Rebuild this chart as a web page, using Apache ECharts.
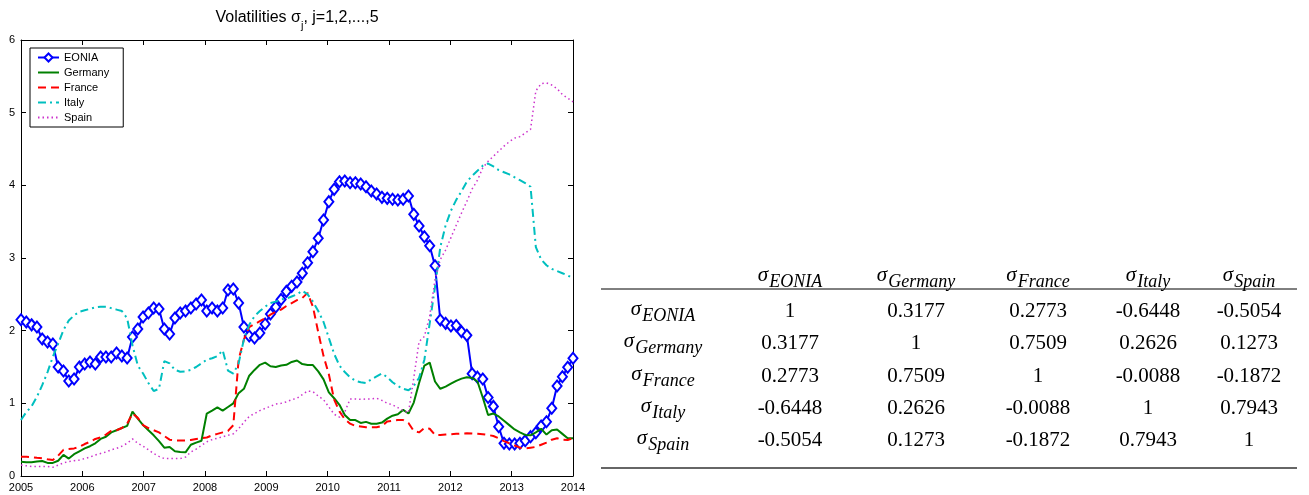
<!DOCTYPE html>
<html><head><meta charset="utf-8">
<script src="https://cdn.jsdelivr.net/npm/echarts@6/dist/echarts.min.js"></script>
<style>html,body{margin:0;padding:0;background:#fff}#c{width:1309px;height:495px}</style>
</head><body><div id="c"></div>
<script>
const seriesNames = ['EONIA', 'Germany', 'France', 'Italy', 'Spain'];

const eonia = [2.15, 2.12, 2.08, 2.05, 1.885, 1.844, 1.816, 1.50, 1.445, 1.307,
  1.335, 1.50, 1.541, 1.569, 1.541, 1.638, 1.638, 1.638, 1.693, 1.651,
  1.624, 1.913, 2.023, 2.188, 2.243, 2.312, 2.298, 2.023, 1.954, 2.174,
  2.243, 2.27, 2.312, 2.367, 2.422, 2.27, 2.312, 2.27, 2.312, 2.56,
  2.573, 2.38, 2.05, 1.927, 1.899, 1.968, 2.092, 2.229, 2.326, 2.43,
  2.54, 2.61, 2.67, 2.789, 2.935, 3.087, 3.271, 3.523, 3.775, 3.945,
  4.05, 4.059, 4.036, 4.036, 4.018, 3.981, 3.922, 3.88, 3.835, 3.821,
  3.808, 3.798, 3.808, 3.853, 3.601, 3.44, 3.293, 3.169, 2.894, 2.147,
  2.101, 2.064, 2.07, 1.986, 1.936, 1.408, 1.36, 1.335, 1.08, 0.958,
  0.678, 0.45, 0.44, 0.44, 0.45, 0.486, 0.541, 0.596, 0.688, 0.747,
  0.932, 1.238, 1.366, 1.496, 1.62];

const germany = [0.197, 0.19, 0.19, 0.20, 0.206, 0.18, 0.18, 0.21, 0.29, 0.24,
  0.30, 0.34, 0.38, 0.41, 0.45, 0.51, 0.54, 0.60, 0.63, 0.66,
  0.69, 0.885, 0.79, 0.70, 0.63, 0.56, 0.48, 0.39, 0.40, 0.34,
  0.33, 0.326, 0.43, 0.46, 0.485, 0.86, 0.90, 0.945, 0.90, 0.95,
  1.00, 1.14, 1.20, 1.38, 1.46, 1.53, 1.56, 1.51, 1.50, 1.52,
  1.53, 1.57, 1.59, 1.54, 1.527, 1.527, 1.44, 1.33, 1.15, 1.07,
  0.98, 0.84, 0.77, 0.77, 0.73, 0.745, 0.72, 0.72, 0.735, 0.79,
  0.83, 0.85, 0.91, 0.86, 1.01, 1.28, 1.52, 1.56, 1.30, 1.20,
  1.23, 1.27, 1.31, 1.34, 1.36, 1.35, 1.30, 1.08, 0.84, 0.86,
  0.82, 0.76, 0.70, 0.64, 0.60, 0.565, 0.56, 0.60, 0.65, 0.57,
  0.63, 0.64, 0.58, 0.52, 0.52];

const france = [0.266, 0.266, 0.26, 0.25, 0.243, 0.23, 0.22, 0.28, 0.36, 0.37,
  0.38, 0.40, 0.44, 0.47, 0.51, 0.53, 0.57, 0.62, 0.63, 0.66,
  0.72, 0.86, 0.80, 0.70, 0.66, 0.63, 0.60, 0.55, 0.50, 0.49,
  0.49, 0.49, 0.495, 0.51, 0.52, 0.53, 0.56, 0.58, 0.60, 0.62,
  0.70, 1.60, 1.88, 2.05, 2.09, 2.13, 2.17, 2.22, 2.26, 2.29,
  2.34, 2.38, 2.42, 2.45, 2.52, 2.33, 1.98, 1.65, 1.40, 1.05,
  0.89, 0.78, 0.72, 0.69, 0.68, 0.67, 0.67, 0.67, 0.69, 0.75,
  0.76, 0.77, 0.77, 0.73, 0.62, 0.60, 0.66, 0.65, 0.565, 0.565,
  0.57, 0.575, 0.58, 0.585, 0.587, 0.585, 0.58, 0.575, 0.565, 0.55,
  0.52, 0.48, 0.45, 0.42, 0.39, 0.38, 0.39, 0.40, 0.43, 0.46,
  0.50, 0.52, 0.50, 0.495, 0.52];

const italy = [0.77, 0.88, 0.96, 1.09, 1.25, 1.43, 1.64, 1.82, 2.01, 2.14,
  2.21, 2.26, 2.28, 2.30, 2.32, 2.33, 2.33, 2.31, 2.29, 2.27,
  2.17, 1.80, 1.52, 1.41, 1.28, 1.17, 1.20, 1.58, 1.55, 1.46,
  1.435, 1.44, 1.46, 1.50, 1.55, 1.60, 1.62, 1.65, 1.73, 1.45,
  1.41, 1.55, 1.88, 2.08, 2.20, 2.27, 2.33, 2.38, 2.40, 2.43,
  2.44, 2.47, 2.50, 2.55, 2.50, 2.40, 2.27, 2.12, 1.90, 1.68,
  1.52, 1.43, 1.36, 1.31, 1.29, 1.28, 1.33, 1.37, 1.41, 1.36,
  1.29, 1.24, 1.20, 1.18, 1.24, 1.35, 1.60, 2.10, 2.60, 3.15,
  3.45, 3.65, 3.80, 3.92, 4.05, 4.13, 4.20, 4.27, 4.30, 4.26,
  4.21, 4.18, 4.15, 4.11, 4.07, 4.03, 3.98, 3.15, 2.98, 2.90,
  2.85, 2.82, 2.79, 2.76, 2.72];

const spain = [0.15, 0.14, 0.13, 0.13, 0.13, 0.13, 0.12, 0.15, 0.18, 0.20,
  0.21, 0.22, 0.24, 0.26, 0.29, 0.31, 0.33, 0.36, 0.38, 0.41,
  0.45, 0.51, 0.45, 0.41, 0.36, 0.31, 0.27, 0.24, 0.24, 0.24,
  0.24, 0.26, 0.33, 0.37, 0.42, 0.47, 0.50, 0.52, 0.54, 0.56,
  0.58, 0.65, 0.74, 0.82, 0.86, 0.90, 0.93, 0.96, 0.99, 1.00,
  1.02, 1.05, 1.07, 1.12, 1.17, 1.16, 1.10, 1.05, 0.95, 0.85,
  0.81, 0.88, 1.06, 1.06, 1.055, 1.06, 1.06, 1.07, 1.04, 1.00,
  0.98, 0.94, 0.90, 0.87, 1.35, 1.85, 1.92, 2.20, 2.70, 2.98,
  3.11, 3.28, 3.45, 3.62, 3.78, 3.95, 4.07, 4.24, 4.33, 4.40,
  4.47, 4.54, 4.60, 4.65, 4.67, 4.72, 4.77, 5.30, 5.40, 5.41,
  5.38, 5.33, 5.25, 5.20, 5.15];

const xTickLabels = ['2005', '2006', '2007', '2008', '2009', '2010', '2011', '2012', '2013', '2014'];
const yTickLabels = ['0', '1', '2', '3', '4', '5', '6'];

const corrNames = ['EONIA', 'Germany', 'France', 'Italy', 'Spain'];
const corrEONIA   = [1, 0.3177, 0.2773, -0.6448, -0.5054];
const corrGermany = [0.3177, 1, 0.7509, 0.2626, 0.1273];
const corrFrance  = [0.2773, 0.7509, 1, -0.0088, -0.1872];
const corrItaly   = [-0.6448, 0.2626, -0.0088, 1, 0.7943];
const corrSpain   = [-0.5054, 0.1273, -0.1872, 0.7943, 1];
const corrRows = [corrEONIA, corrGermany, corrFrance, corrItaly, corrSpain];

const titleText = '{a|Volatilities σ}{j|j}{a|, j=1,2,...,5}';

const nPts = eonia.length;
const xMax = nPts - 1;
const yearStep = xMax / (xTickLabels.length - 1);
const pairs = arr => arr.map((v, i) => [i, v]);

const colors = ['#0000ff', '#008000', '#ff0000', '#00bfbf', '#cc33cc'];
const styles = [
  { width: 2, type: 'solid' },
  { width: 2, type: 'solid' },
  { width: 2, type: [8, 5] },
  { width: 2, type: [8, 4, 2, 4] },
  { width: 1.5, type: [1.5, 3] }
];
const allData = [eonia, germany, france, italy, spain];

const series = allData.map((d, k) => {
  const s = {
    name: seriesNames[k],
    type: 'line',
    data: pairs(d),
    xAxisIndex: 0, yAxisIndex: 0,
    lineStyle: Object.assign({ color: colors[k] }, styles[k]),
    itemStyle: { color: colors[k] },
    symbol: 'none',
    silent: true,
    z: 2 + k
  };
  if (k === 0) {
    s.symbol = 'emptyDiamond';
    s.symbolSize = [9, 11];
    s.showAllSymbol = true;
    s.itemStyle = { color: colors[0], borderColor: colors[0], borderWidth: 1.5 };
  }
  return s;
});

const legendData = seriesNames.map((n, k) => k === 0 ? { name: n } : { name: n, itemStyle: { opacity: 0 } });

const serif = 'Liberation Serif';
const richLabel = {
  s: { fontFamily: serif, fontSize: 21, fontStyle: 'italic', lineHeight: 22, verticalAlign: 'top', color: '#000' },
  b: { fontFamily: serif, fontSize: 18, fontStyle: 'italic', lineHeight: 16, padding: [8, 0, 0, 1], verticalAlign: 'top', color: '#000' }
};
const colX = [663, 790, 916, 1038, 1148, 1249];
const rowY = [276, 311, 343, 376, 408, 440];

const graphics = [];
graphics.push({
  type: 'text', x: 297, y: 19, z: 10,
  style: {
    text: titleText, align: 'center', verticalAlign: 'middle',
    rich: {
      a: { fontFamily: 'Liberation Sans', fontSize: 16, lineHeight: 18, verticalAlign: 'top', color: '#000' },
      j: { fontFamily: 'Liberation Sans', fontSize: 11, lineHeight: 12, padding: [10, 0, 0, 0], verticalAlign: 'top', color: '#000' }
    }
  }
});
corrNames.forEach((n, c) => {
  graphics.push({ type: 'text', x: colX[c + 1], y: rowY[0], style: { text: '{s|σ}{b|' + n + '}', rich: richLabel, align: 'center', verticalAlign: 'middle' } });
});
corrRows.forEach((row, r) => {
  graphics.push({ type: 'text', x: colX[0], y: rowY[r + 1] - 1, style: { text: '{s|σ}{b|' + corrNames[r] + '}', rich: richLabel, align: 'center', verticalAlign: 'middle' } });
  row.forEach((v, c) => {
    graphics.push({ type: 'text', x: colX[c + 1], y: rowY[r + 1], style: { text: String(v), fontFamily: serif, fontSize: 21, fill: '#000', align: 'center', verticalAlign: 'middle' } });
  });
});
graphics.push({ type: 'line', shape: { x1: 601, y1: 289, x2: 1297, y2: 289 }, style: { stroke: '#000', lineWidth: 1 } });
graphics.push({ type: 'line', shape: { x1: 601, y1: 468, x2: 1297, y2: 468 }, style: { stroke: '#333', lineWidth: 1.5 } });

const axisCommon = {
  axisLine: { show: true, onZero: false, lineStyle: { color: '#000', width: 1 } },
  axisTick: { show: true, inside: true, length: 5, lineStyle: { color: '#000', width: 1 } },
  splitLine: { show: false }
};

const chart = echarts.init(document.getElementById('c'), null, { renderer: 'canvas' });
chart.setOption({
  animation: false,
  backgroundColor: '#fff',
  grid: { left: 21, right: 736, top: 40, bottom: 19, containLabel: false },
  legend: {
    data: legendData,
    orient: 'vertical',
    left: 30, top: 48,
    padding: [4, 14, 4, 7],
    itemWidth: 21, itemHeight: 10, itemGap: 4,
    backgroundColor: '#fff',
    borderColor: '#000', borderWidth: 1, borderRadius: 0,
    textStyle: { fontFamily: 'Liberation Sans', fontSize: 11, color: '#000' },
    selectedMode: false
  },
  xAxis: [
    Object.assign({
      type: 'value', min: 0, max: xMax, interval: yearStep, position: 'bottom',
      axisLabel: { show: true, margin: 6, fontFamily: 'Liberation Sans', fontSize: 11, color: '#000',
        formatter: v => xTickLabels[Math.round(v / yearStep)] }
    }, axisCommon),
    Object.assign({
      type: 'value', min: 0, max: xMax, interval: yearStep, position: 'top',
      axisLabel: { show: false }
    }, axisCommon)
  ],
  yAxis: [
    Object.assign({
      type: 'value', min: 0, max: 6, interval: 1, position: 'left',
      axisLabel: { show: true, margin: 6, fontFamily: 'Liberation Sans', fontSize: 11, color: '#000',
        formatter: v => yTickLabels[Math.round(v)] }
    }, axisCommon),
    Object.assign({
      type: 'value', min: 0, max: 6, interval: 1, position: 'right',
      axisLabel: { show: false }
    }, axisCommon)
  ],
  series: series,
  graphic: graphics
});
</script></body></html>
